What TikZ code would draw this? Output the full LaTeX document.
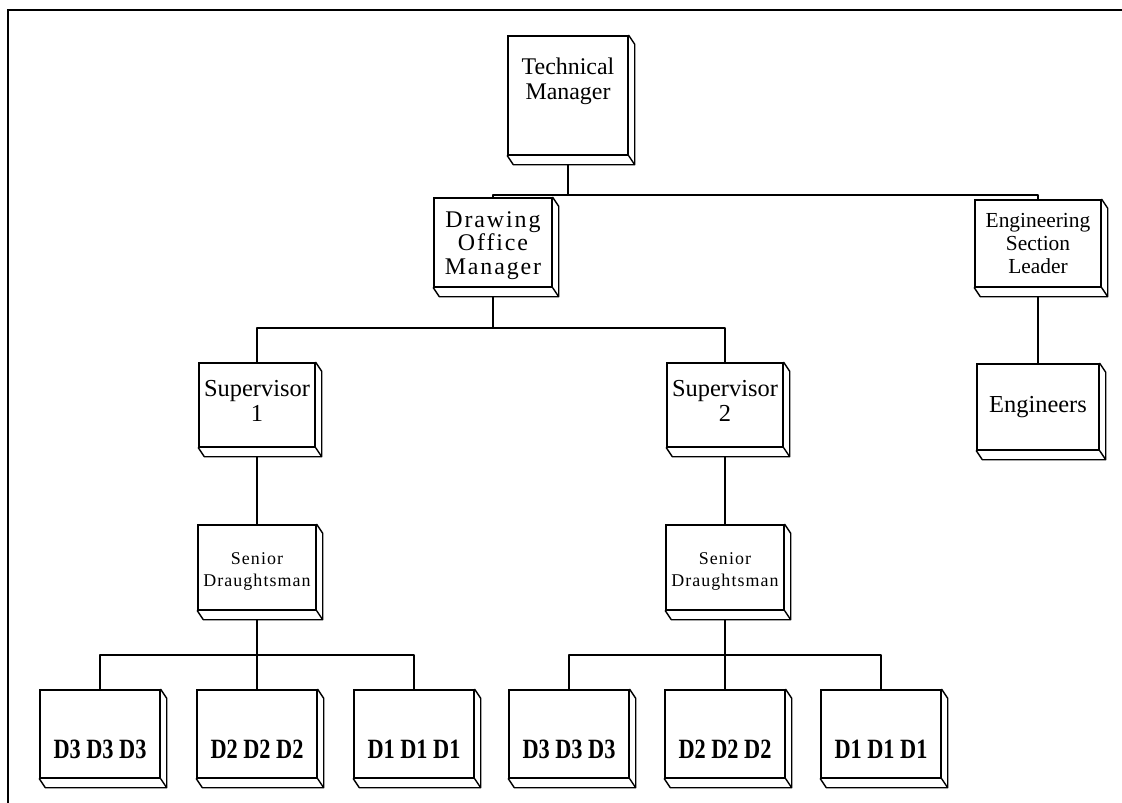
\documentclass[tikz,border=0pt]{standalone}
\usepackage{fontspec}
\setmainfont{Liberation Serif}
\usetikzlibrary{calc}
\newfontfamily\spacedserif[LetterSpace=8]{Liberation Serif}
\newfontfamily\widespaced[LetterSpace=6]{Liberation Serif}

\tikzset{
  wire/.style={line width=1.4bp, line cap=round, line join=round},
  face/.style={draw, line width=1.4bp, fill=white, inner sep=0pt},
  caption/.style={align=center, inner sep=0pt},
}
% Raised slab: front face is the node, the bevel runs down and to the right.
\newcommand\slab[1]{%
  \draw[wire] (#1.north east) -- ++(6,9) -- ($(#1.south east)+(6,9)$)
    -- ($(#1.south west)+(6,9)$) -- (#1.south west)
    (#1.south east) -- ++(6,9);}

\begin{document}
\begin{tikzpicture}[x=1bp, y=-1bp]
\useasboundingbox (0,0) rectangle (1122,803);

% frame
\draw[line width=2bp] (1122,10) -- (8,10) -- (8,803);

% bus levels
\coordinate (bus0) at (0,195);
\coordinate (bus1) at (0,328);
\coordinate (bus2) at (0,655);

% boxes
\node[face, minimum width=120bp, minimum height=119bp] (tm)  at (568,95.5) {};
\node[face, minimum width=118bp, minimum height=89bp]  (dom) at (493,242.5) {};
\node[face, minimum width=126bp, minimum height=87bp]  (esl) at (1038,243.5) {};
\node[face, minimum width=122bp, minimum height=86bp]  (eng) at (1038,407) {};
\node[face, minimum width=116bp, minimum height=84bp]  (sup1) at (257,405) {};
\node[face, minimum width=116bp, minimum height=84bp]  (sup2) at (725,405) {};
\node[face, minimum width=118bp, minimum height=85bp]  (sd1) at (257,567.5) {};
\node[face, minimum width=118bp, minimum height=85bp]  (sd2) at (725,567.5) {};
\foreach \n/\x in {d3a/100, d2a/257, d1a/414, d3b/569, d2b/725, d1b/881}
  \node[face, minimum width=120bp, minimum height=88bp] (\n) at (\x,734) {};

\foreach \n in {tm,dom,esl,eng,sup1,sup2,sd1,sd2,d3a,d2a,d1a,d3b,d2b,d1b}
  \slab{\n};

% labels
\node[caption, font=\fontsize{24}{25}\selectfont] (tm-t) at ([yshift=14bp]tm.center) {Technical\\Manager};
\node[caption, font=\fontsize{24}{23.5}\spacedserif] (dom-t) at ([yshift=-3bp]dom.center) {Drawing\\Office\\Manager};
\node[caption, font=\fontsize{21.5}{23}\selectfont] (esl-t) at (esl.center) {Engineering\\Section\\Leader};
\node[caption, font=\fontsize{24.5}{25}\selectfont] (eng-t) at (eng.center) {Engineers};
\node[caption, font=\fontsize{24.5}{25}\selectfont] (sup1-t) at ([yshift=4bp]sup1.center) {Supervisor\\1};
\node[caption, font=\fontsize{24.5}{25}\selectfont] (sup2-t) at ([yshift=4bp]sup2.center) {Supervisor\\2};
\node[caption, font=\fontsize{18}{22}\widespaced] (sd1-t) at ([yshift=-4bp]sd1.center) {Senior\\Draughtsman};
\node[caption, font=\fontsize{18}{22}\widespaced] (sd2-t) at ([yshift=-4bp]sd2.center) {Senior\\Draughtsman};
\foreach \n/\t in {d3a/D3 D3 D3, d2a/D2 D2 D2, d1a/D1 D1 D1, d3b/D3 D3 D3, d2b/D2 D2 D2, d1b/D1 D1 D1}
  \node[caption, font=\fontsize{28}{28}\selectfont\bfseries] (\n-t) at ([yshift=-15bp]\n.center) {\scalebox{0.8}[1]{\t}};

% connectors
\draw[wire] ([yshift=-9bp]tm.south) -- (tm.south |- bus0);
\draw[wire] (dom.north) |- (esl.north |- bus0) -- (esl.north);
\draw[wire] ([yshift=-9bp]esl.south) -- (eng.north);
\draw[wire] ([yshift=-9bp]dom.south) -- (dom.south |- bus1);
\draw[wire] (sup1.north) |- (sup2.north |- bus1) -- (sup2.north);
\draw[wire] ([yshift=-9bp]sup1.south) -- (sd1.north);
\draw[wire] ([yshift=-9bp]sup2.south) -- (sd2.north);
\draw[wire] ([yshift=-9bp]sd1.south) -- (d2a.north);
\draw[wire] (d3a.north) |- (d1a.north |- bus2) -- (d1a.north);
\draw[wire] ([yshift=-9bp]sd2.south) -- (d2b.north);
\draw[wire] (d3b.north) |- (d1b.north |- bus2) -- (d1b.north);
\end{tikzpicture}
\end{document}
